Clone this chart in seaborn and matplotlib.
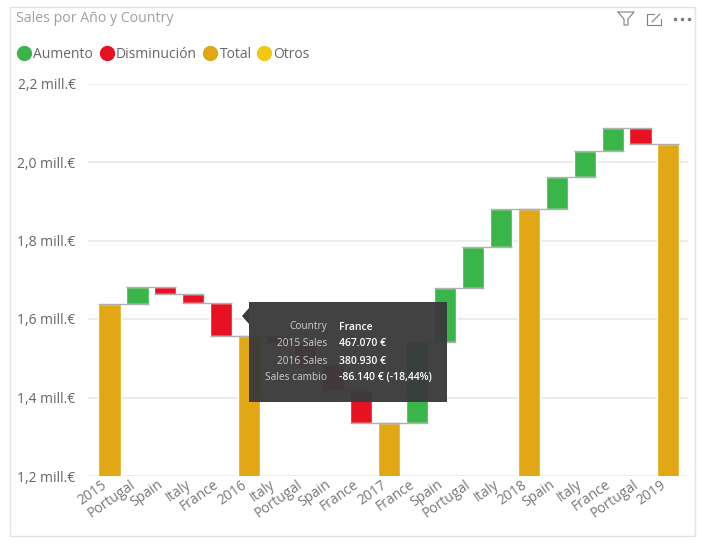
import matplotlib
matplotlib.use("Agg")
import matplotlib.pyplot as plt
from matplotlib.lines import Line2D
from matplotlib.patches import Polygon, Rectangle
from matplotlib.transforms import ScaledTranslation
import seaborn as sns

# waterfall data, level = running total after each step (mill. EUR)
labels = ["2015", "Portugal", "Spain", "Italy", "France", "2016", "Italy", "Portugal", "Spain", "France", "2017",
          "France", "Spain", "Portugal", "Italy", "2018", "Spain", "Italy", "France", "Portugal", "2019"]
levels = [1.638, 1.681, 1.664, 1.642, 1.556, 1.556, 1.539, 1.483, 1.417, 1.334, 1.334,
          1.541, 1.679, 1.783, 1.880, 1.880, 1.963, 2.029, 2.087, 2.046, 2.046]
kinds = ["Total", "Aumento", "Disminución", "Disminución", "Disminución", "Total",
         "Disminución", "Disminución", "Disminución", "Disminución", "Total",
         "Aumento", "Aumento", "Aumento", "Aumento", "Total",
         "Aumento", "Aumento", "Aumento", "Disminución", "Total"]
y_ticks = [1.2, 1.4, 1.6, 1.8, 2.0, 2.2]
y_labels = ["1,2 mill.€", "1,4 mill.€", "1,6 mill.€", "1,8 mill.€", "2,0 mill.€", "2,2 mill.€"]

colors = {"Aumento": "#39b54a", "Disminución": "#e81123", "Total": "#e2a714", "Otros": "#f2c811"}

tip_names = ["Country", "2015 Sales", "2016 Sales", "Sales cambio"]
tip_values = ["France", "467.070 €", "380.930 €", "-86.140 € (-18,44%)"]

W, H = 701, 544
sns.set_theme(style="white")
plt.rcParams["font.family"] = ["Open Sans", "DejaVu Sans"]

fig = plt.figure(figsize=(W / 100, H / 100), dpi=100, facecolor="white")
ax = fig.add_axes([88 / W, 1 - 476 / H, 600 / W, 392.5 / H])
ax.set_facecolor("none")


def fx(x):
    return x / W


def fy(y):
    return 1 - y / H


# floating bars, one call per step
for i, (level, kind) in enumerate(zip(levels, kinds)):
    start = 0 if kind == "Total" else levels[i - 1]
    low, high = min(start, level), max(start, level)
    sns.barplot(x=[i], y=[high - low], bottom=low, native_scale=True, color=colors[kind],
                width=0.79, saturation=1, ax=ax, zorder=3)

# connectors between bars
for i in range(len(levels) - 1):
    ax.hlines(levels[i], i - 0.395, i + 1 + 0.395, color="#b0b0b0", linewidth=1.0, zorder=4)

ax.set_xlim(-0.77, 20.70)
ax.set_ylim(1.2, 2.2)
ax.set_yticks(y_ticks, y_labels)
ax.set_xticks(range(len(labels)))
ax.set_xticklabels(labels, rotation=35, ha="right", va="top", rotation_mode="anchor")
ax.tick_params(axis="y", length=0, pad=9, labelsize=10, labelcolor="#666666")
ax.tick_params(axis="x", length=0, pad=1, labelsize=10, labelcolor="#777777")
shift = ScaledTranslation(-8 / 100, 0, fig.dpi_scale_trans)
for tick_label in ax.get_xticklabels():
    tick_label.set_transform(tick_label.get_transform() + shift)
ax.set_xlabel("")
ax.set_ylabel("")
ax.grid(axis="y", color="#e9e9e9", linewidth=1.2, zorder=0)
ax.set_axisbelow(True)
sns.despine(ax=ax, left=True, bottom=True, top=True, right=True)

# card border and title
fig.add_artist(Rectangle((fx(9.5), fy(536)), 685 / W, 529.5 / H, transform=fig.transFigure,
                         facecolor="none", edgecolor="#e4e4e4", linewidth=1))
fig.text(fx(16), fy(18.5), "Sales por Año y Country", fontsize=10.2, color="#a0a0a0", va="center")

# legend
for name, cx, tx in zip(colors, [24, 107, 210, 264], [33, 116, 220, 273]):
    fig.add_artist(Line2D([fx(cx)], [fy(53)], marker="o", markersize=10, color=colors[name],
                          linestyle="none", transform=fig.transFigure))
    fig.text(fx(tx), fy(54.5), name, fontsize=10, color="#666666", va="center")

# header icons
icon = dict(color="#808080", linewidth=0.8, transform=fig.transFigure)
fig.add_artist(Line2D([fx(v) for v in [618, 634, 628, 628, 624, 624, 618]],
                      [fy(v) for v in [12, 12, 19, 25, 25, 19, 12]], **icon))
fig.add_artist(Line2D([fx(v) for v in [654, 647, 647, 661, 661]],
                      [fy(v) for v in [14, 14, 25, 25, 19]], **icon))
fig.add_artist(Line2D([fx(652), fx(660)], [fy(22), fy(14)], **icon))
fig.add_artist(Line2D([fx(v) for v in [675, 682, 689]], [fy(19)] * 3, marker="o", markersize=1.5,
                      linestyle="none", color="#777777", transform=fig.transFigure))

# tooltip
fig.add_artist(Rectangle((fx(249), fy(402)), 198 / W, 100 / H, transform=fig.transFigure,
                         facecolor="#3a3a3a", edgecolor="none", alpha=0.96, zorder=10))
fig.add_artist(Polygon([(fx(242), fy(316)), (fx(249), fy(308)), (fx(249), fy(324))], closed=True,
                       transform=fig.transFigure, facecolor="#3a3a3a", edgecolor="none", zorder=10))
for row, (name, value) in enumerate(zip(tip_names, tip_values)):
    row_y = fy(327 + row * 17)
    fig.text(fx(327), row_y, name, fontsize=7.3, color="#cfcfcf", ha="right", va="center", zorder=11)
    fig.text(fx(339), row_y, value, fontsize=7.5, color="white", weight="semibold", va="center", zorder=11)

fig.savefig("out.png", dpi=100)
